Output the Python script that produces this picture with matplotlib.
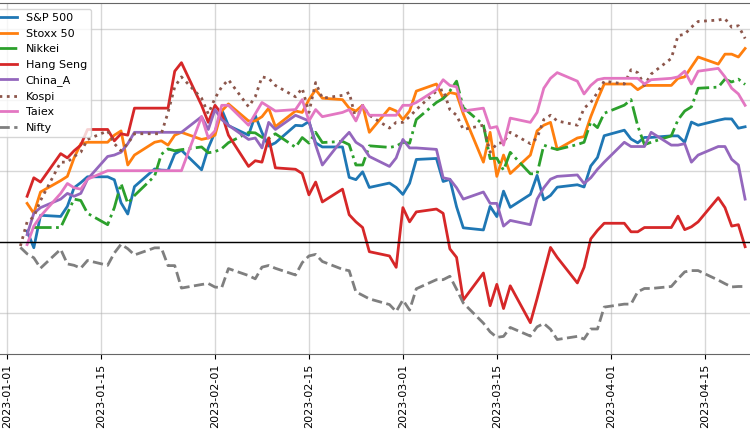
import numpy as np
import pandas as pd
import matplotlib
matplotlib.use("Agg")
import matplotlib.pyplot as plt
import matplotlib.dates as mdates

nan = np.nan

# trading days, cumulative return in %
dates = pd.bdate_range("2023-01-03", "2023-04-21")

sp500 = [nan, 0.75, -0.42, 1.86, 1.78, 2.49, 3.80, 4.16, 4.57, 4.57, 4.36, 2.74, 1.95, 3.88, 5.12, 5.04, 5.02, 6.18, 6.44, 5.06, 6.60,
         7.71, 9.30, 8.17, 7.50, 8.89, 7.68, 6.73, 6.96, 8.19, 8.16, 8.46, 6.96, 6.67, 6.67, 4.53, 4.37, 4.92, 3.82, 4.13, 3.82,
         3.33, 4.11, 5.79, 5.86, 4.24, 4.39, 2.46, 0.98, 0.83, 2.49, 1.77, 3.56, 2.42, 3.33, 4.67, 2.95, 3.26, 3.84, 4.01, 3.85, 5.33, 5.93, 7.46,
         7.85, 7.23, 6.96, 7.34, 7.34, 7.45, 7.45, 7.00, 8.42, 8.20, 8.55, 8.65, 8.64, 7.99, 8.09]

stoxx = [nan, 2.7, 2.0, 3.5, 4.3, 4.6, 5.9, 6.9, 7.0, 7.0, 7.5, 7.8, 5.4, 6.1, 7.0, 7.1, 6.8, 7.5, 7.7, 7.2, 7.3,
         7.5, 9.2, 9.7, 8.5, 8.5, 8.8, 9.4, 8.1, 9.2, 9.1, 10.0, 10.7, 10.1, 10.0, 9.4, 9.2, 9.6, 7.7, 9.4, 9.2,
         8.6, 9.2, 10.6, 11.1, 10.1, 10.5, 10.4, 9.0, 5.6, 7.7, 4.6, 6.1, 4.8, 6.1, 7.8, 8.2, 8.4, 6.5, 7.3, 7.4, 8.8, 10.0, 11.1,
         11.1, 11.1, 10.7, 11.0, 11.0, 11.0, 11.5, 11.6, 12.3, 13.0, 12.5, 13.2, 13.2, 13.0, 13.6]

nikkei = [nan, nan, 1.00, 1.00, 1.00, 2.00, 3.00, 2.90, 2.00, 1.20, 2.40, 4.10, 2.70, 3.25, 4.62, 6.15, 6.53, 6.40, 6.48, 6.67, 6.26,
          6.34, 6.55, 6.97, 7.69, 7.66, 7.35, 7.26, 7.60, 6.65, 7.33, 6.94, 7.70, 6.98, 7.06, 6.83, 5.40, 5.40, 6.75, 6.64, 6.72,
          7.00, 6.93, 8.60, 9.80, 10.08, 10.61, 11.30, 9.44, 8.23, 5.85, 5.88, 5.03, 6.29, 4.78, 4.78, 6.80, 6.62, 6.49, 6.84, 7.00, 8.43, 8.03, 9.04,
          9.61, 10.00, 8.15, 6.83, 7.00, 7.45, 8.58, 9.20, 9.49, 10.80, 10.88, 11.44, 11.24, 11.44, 11.07]

hangseng = [nan, 3.2, 4.5, 4.2, 6.2, 5.9, 6.4, 6.8, 7.9, 7.9, 7.1, 7.6, 7.5, 9.4, 9.4, 9.4, 9.4, 12.0, 12.6, 9.6, 8.4,
            9.6, 9.0, 7.5, 5.3, 5.7, 5.6, 7.3, 5.2, 5.1, 4.8, 3.3, 4.2, 2.8, 3.7, 1.9, 1.4, 1.0, -0.7, -1.0, -1.8,
            2.4, 1.4, 2.1, 2.3, 2.0, -0.5, -1.1, -4.1, -2.2, -4.5, -3.0, -4.7, -3.1, -5.7, -4.0, -2.2, -0.4, -1.1, -2.9, -1.8, 0.2, 0.8, 1.3,
            1.3, 0.7, 0.7, 1.0, 1.0, 1.0, 1.8, 0.85, 1.05, 1.4, 3.1, 2.4, 1.1, 1.2, -0.35]

china_a = [nan, 0.5, 2.0, 2.4, 3.0, 3.4, 3.2, 3.4, 4.4, 6.0, 6.1, 6.3, 6.9, 7.7, 7.7, 7.7, 7.7, 7.7, 7.7, 8.8, 7.9,
           9.3, 8.6, 8.2, 7.2, 7.3, 6.6, 8.4, 7.9, 8.9, 8.7, 8.5, 6.8, 5.4, 7.2, 7.7, 7.0, 6.7, 6.0, 5.3, 5.9,
           7.2, 6.6, 6.6, 6.5, 4.5, 4.4, 3.8, 3.0, 3.5, 2.7, 2.7, 1.1, 1.5, 1.2, 3.0, 3.8, 4.4, 4.6, 4.7, 4.1, 4.5, 5.1, 5.6,
           7.0, 6.7, 6.7, 6.7, 7.7, 6.8, 6.8, 6.9, 5.6, 6.1, 6.7, 6.7, 5.8, 5.4, 3.0]

kospi = [-0.3, 1.4, 1.75, 2.9, 5.6, 5.6, 6.0, 6.3, 7.2, 7.8, 6.9, 6.4, 6.9, 7.6, 7.6, 7.6, 9.1, 10.9, 11.6, 10.1, 9.0,
         10.1, 10.9, 11.4, 9.5, 10.2, 11.6, 11.5, 11.0, 10.2, 10.8, 9.1, 11.2, 10.1, 10.3, 10.5, 8.6, 9.6, 8.9, 8.0, 8.4,
         8.4, 8.8, 9.3, 10.6, 10.7, 9.3, 8.9, 7.9, 8.2, 6.3, 6.9, 7.0, 7.7, 6.9, 7.3, 8.6, 8.9, 8.5, 8.2, 9.4, 9.8, 10.5, 11.3,
         11.1, 12.1, 11.9, 11.0, 11.8, 12.9, 14.5, 14.6, 15.1, 15.5, 15.6, 15.7, 15.1, 15.2, 14.3]

taiex = [nan, -0.2, 1.1, 1.8, 3.4, 4.1, 3.8, 3.7, 4.4, 5.0, 5.0, 5.0, 5.0, 5.0, 5.0, 5.0, 5.0, 5.0, 5.0, 8.8, 7.3,
         7.8, 9.6, 9.6, 8.2, 9.0, 9.8, 9.5, 9.2, 9.3, 10.0, 8.5, 9.3, 8.8, 9.1, 9.3, 8.5, 9.6, 8.9, 8.9, 8.9,
         9.6, 9.6, 9.8, 10.7, 11.4, 11.0, 10.9, 9.2, 9.4, 8.0, 8.1, 6.8, 8.7, 8.4, 9.1, 10.8, 11.5, 11.9, 11.3, 10.4, 11.0, 11.4, 11.5,
         11.5, 11.5, 11.5, 11.1, 11.4, 11.5, 11.6, 12.0, 11.1, 12.0, 12.2, 11.6, 10.8, 10.4, 9.6]

nifty = [-0.4, -0.85, -1.13, -1.86, -0.53, -1.56, -1.66, -1.86, -1.32, -1.66, -0.79, -0.18, -0.49, -0.93, -0.43, -0.43, -1.68, -1.68, -3.26, -3.01, -2.94,
         -3.19, -3.23, -1.89, -2.38, -2.61, -1.79, -1.67, -1.87, -2.34, -1.47, -1.00, -0.89, -1.39, -1.94, -2.04, -3.53, -3.77, -4.02, -4.42, -4.91,
         -4.10, -4.81, -3.31, -2.67, -2.67, -2.43, -3.34, -4.31, -5.73, -6.34, -6.73, -6.66, -6.03, -6.64, -5.99, -5.75, -6.16, -6.88, -6.66, -6.85, -6.14, -6.14, -4.60,
         -4.39, -4.39, -3.52, -3.29, -3.29, -3.15, -2.61, -2.12, -2.03, -2.03, -2.70, -2.95, -3.18, -3.15, -3.15]

series = [
    ("S&P 500", sp500, "tab:blue", "-"),
    ("Stoxx 50", stoxx, "tab:orange", "-"),
    ("Nikkei", nikkei, "tab:green", "-."),
    ("Hang Seng", hangseng, "tab:red", "-"),
    ("China_A", china_a, "tab:purple", "-"),
    ("Kospi", kospi, "tab:brown", ":"),
    ("Taiex", taiex, "tab:pink", "-"),
    ("Nifty", nifty, "tab:gray", "--"),
]

fig = plt.figure(figsize=(7.5, 4.3), dpi=100)
# axes run a little past the left and right edge of the picture
ax = fig.add_axes([-15.5 / 750, 76 / 430, 796.5 / 750, 351 / 430])

for name, vals, col, ls in series:
    ax.plot(dates, vals, color=col, linestyle=ls, linewidth=2, label=name)

ax.axhline(0, color="black", linewidth=1)

ax.set_xlim(pd.Timestamp("2022-12-28 15:36"), pd.Timestamp("2023-04-26 08:24"))
ax.set_ylim(-7.9, 16.8)
ax.set_yticks([-5, 0, 5, 10, 15])
# the y labels sit outside the cropped picture
ax.tick_params(axis="y", left=False, labelleft=False)

ticks = pd.to_datetime(["2023-01-01", "2023-01-15", "2023-02-01", "2023-02-15",
                        "2023-03-01", "2023-03-15", "2023-04-01", "2023-04-15"])
ax.set_xticks(ticks)
ax.xaxis.set_major_formatter(mdates.DateFormatter("%Y-%m-%d"))
plt.setp(ax.get_xticklabels(), rotation=90, fontsize=8)

ax.grid(True, color="#b0b0b0", alpha=0.5, linewidth=1)
for s in ax.spines.values():
    s.set_color("#666666")

ax.legend(loc="upper left", fontsize=8)

fig.savefig("out.png", dpi=100)
